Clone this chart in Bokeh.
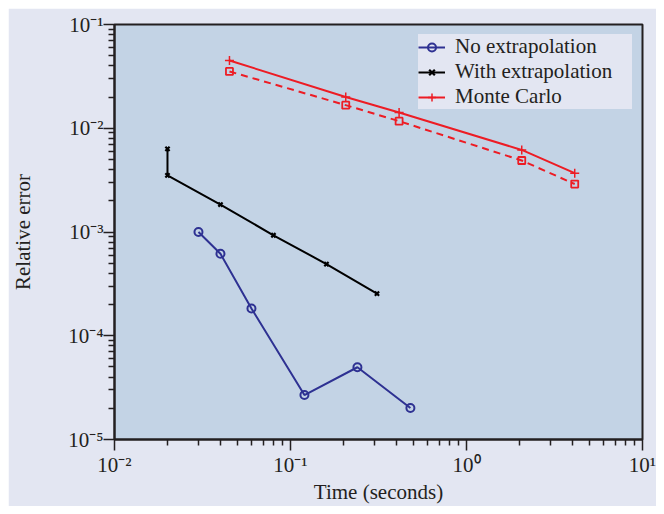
from bokeh.plotting import figure
from bokeh.models import FixedTicker, Legend, LegendItem
from bokeh.embed import file_html
from bokeh.resources import INLINE

# ---- data ----
no_x = [0.03, 0.04, 0.06, 0.12, 0.24, 0.48]
no_y = [1.0e-3, 6.16e-4, 1.83e-4, 2.68e-5, 4.97e-5, 2.01e-5]

with_x = [0.02, 0.02, 0.04, 0.08, 0.16, 0.31]
with_y = [6.32e-3, 3.51e-3, 1.84e-3, 9.3e-4, 4.91e-4, 2.55e-4]

mc_x = [0.045, 0.206, 0.414, 2.06, 4.12]
mc_y = [4.5e-2, 2.0e-2, 1.42e-2, 6.18e-3, 3.69e-3]
mc2_y = [3.53e-2, 1.67e-2, 1.17e-2, 4.89e-3, 2.9e-3]

x_ticks = [1e-2, 1e-1, 1e0, 1e1]
x_tick_labels = ["10\u207b\u00b2", "10\u207b\u00b9", "10\u2070", "10\u00b9"]
y_ticks = [1e-5, 1e-4, 1e-3, 1e-2, 1e-1]
y_tick_labels = ["10\u207b\u2075", "10\u207b\u2074", "10\u207b\u00b3", "10\u207b\u00b2", "10\u207b\u00b9"]
minor_x = [k * d for d in [1e-2, 1e-1, 1e0] for k in range(2, 10)]
minor_y = [k * d for d in [1e-5, 1e-4, 1e-3, 1e-2] for k in range(2, 10)]

legend_labels = ["No extrapolation", "With extrapolation", "Monte Carlo"]

# ---- style ----
DARK = "#231f20"
OUTER_BG = "#e3e6f2"
PLOT_BG = "#c3d3e5"
BLUE = "#2e3192"
RED = "#ed1c24"
FONT = "Liberation Serif"

p = figure(width=648, height=498, x_axis_type="log", y_axis_type="log",
           x_range=(1e-2, 1e1), y_range=(1e-5, 1e-1),
           output_backend="svg", toolbar_location=None,
           min_border_left=104, min_border_right=14, min_border_top=16,
           min_border_bottom=64,
           background_fill_color=PLOT_BG, border_fill_color=OUTER_BG,
           outline_line_color=DARK, outline_line_width=2)
p.margin = (8, 8, 8, 8)
p.grid.visible = False

p.xaxis.ticker = FixedTicker(ticks=x_ticks, minor_ticks=minor_x)
p.yaxis.ticker = FixedTicker(ticks=y_ticks, minor_ticks=minor_y)
p.xaxis.major_label_overrides = dict(zip(x_ticks, x_tick_labels))
p.yaxis.major_label_overrides = dict(zip(y_ticks, y_tick_labels))
p.xaxis.axis_label = "Time (seconds)"
p.yaxis.axis_label = "Relative error"
p.xaxis.major_label_standoff = 2
p.yaxis.major_label_standoff = 0
p.xaxis.axis_label_standoff = 0
p.yaxis.axis_label_standoff = 30

for ax in (p.xaxis[0], p.yaxis[0]):
    ax.axis_line_color = DARK
    ax.axis_line_width = 2
    ax.major_tick_out = 11
    ax.major_tick_in = 0
    ax.minor_tick_out = 6
    ax.minor_tick_in = 0
    ax.major_tick_line_color = DARK
    ax.minor_tick_line_color = DARK
    ax.major_tick_line_width = 1.5
    ax.minor_tick_line_width = 1.5
    ax.major_label_text_font = FONT
    ax.major_label_text_font_size = "21px"
    ax.major_label_text_color = DARK
    ax.axis_label_text_font = FONT
    ax.axis_label_text_font_size = "21px"
    ax.axis_label_text_font_style = "normal"
    ax.axis_label_text_color = DARK

# series
r1l = p.line(no_x, no_y, line_color=BLUE, line_width=2)
r1m = p.scatter(no_x, no_y, marker="circle", size=8, fill_color=None,
                line_color=BLUE, line_width=2)
r2l = p.line(with_x, with_y, line_color="black", line_width=2)
r2m = p.scatter(with_x, with_y, marker="x", size=6, line_color="black", line_width=2.2)
r3l = p.line(mc_x, mc_y, line_color=RED, line_width=2)
r3m = p.scatter(mc_x, mc_y, marker="cross", size=9, line_color=RED, line_width=1.5)
r4l = p.line(mc_x, mc2_y, line_color=RED, line_width=2, line_dash="7 5")
r4m = p.scatter(mc_x, mc2_y, marker="square", size=7, fill_color=None,
                line_color=RED, line_width=1.8)

legend = Legend(items=[
    LegendItem(label=legend_labels[0], renderers=[r1l, r1m]),
    LegendItem(label=legend_labels[1], renderers=[r2l, r2m]),
    LegendItem(label=legend_labels[2], renderers=[r3l, r3m]),
], location="top_right", margin=10, padding=8, spacing=0,
    glyph_width=27, glyph_height=20, label_standoff=10, label_width=177,
    label_text_font=FONT, label_text_font_size="21px", label_text_color=DARK,
    background_fill_color=OUTER_BG, background_fill_alpha=1.0,
    border_line_color=None)
p.add_layout(legend)

open("out.html", "w").write(file_html(p, INLINE))
